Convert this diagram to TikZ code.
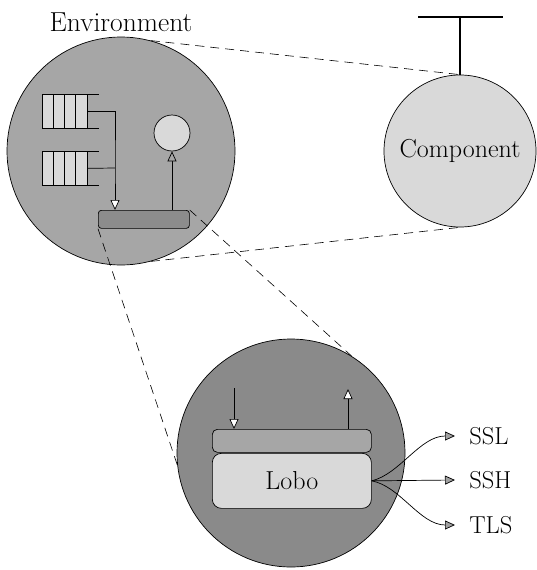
\documentclass[tikz,border=0pt]{standalone}
\usepackage{fontspec}
\usetikzlibrary{arrows.meta}
\definecolor{envgray}{HTML}{A6A6A6}
\definecolor{lowgray}{HTML}{8A8A8A}
\definecolor{lightgrayb}{HTML}{D9D9D9}
\definecolor{bargray}{HTML}{8C8C8C}
\definecolor{tipgray}{HTML}{A0A0A0}
\begin{document}
\begin{tikzpicture}[x=1pt,y=-1pt, line width=0.7pt,
  lbl/.style={font=\fontsize{26}{30}\selectfont, inner sep=0pt},
  plbl/.style={font=\fontsize{24.5}{28}\selectfont, inner sep=0pt},
  dashline/.style={dash pattern=on 9pt off 6pt, line width=0.6pt},
  tipw/.style={-{Triangle[length=10pt,width=9pt,fill=white]}},
  tipg/.style={-{Triangle[length=10pt,width=9pt,fill=envgray]}},
  tipo/.style={-{Triangle[length=10pt,width=9pt,fill=tipgray]}},
  bigcircle/.style={circle, draw, minimum size=228pt, inner sep=0pt},
  queue/.style={draw, fill=lightgrayb, minimum width=45pt, minimum height=34pt, inner sep=0pt, anchor=north west},
]
\useasboundingbox (0,0) rectangle (536,570);
% environment
\node[bigcircle, fill=envgray] (env) at (121,151) {};
\node[font=\fontsize{27.5}{32}\selectfont, inner sep=0pt, anchor=base] (envlabel) at (121,31) {Environment};
% component
\node[circle, draw, fill=lightgrayb, minimum size=152pt, lbl] (comp) at (460,151) {Component};
\coordinate (ttop) at (460,17);
\draw[line width=1.3pt] (comp.north) -- (ttop);
\draw[line width=1.1pt] ([xshift=-42pt]ttop) -- ([xshift=43pt]ttop);
% queues
\node[queue] (q1) at (42,94) {};
\node[queue] (q2) at (42,151) {};
\foreach \q in {q1,q2}{
  \foreach \i in {1,2,3}
    \draw ([xshift=\i*11.25pt]\q.north west) -- ([xshift=\i*11.25pt]\q.south west);
  \draw (\q.north east) -- ++(11,0);
  \draw (\q.south east) -- ++(11,0);
}
% bar and small circle
\node[draw, fill=bargray, rounded corners=3pt, minimum width=91pt, minimum height=18pt, inner sep=0pt, anchor=north west] (bar) at (98,210) {};
\node[circle, draw, fill=lightgrayb, minimum size=36pt, inner sep=0pt] (sc) at (172,133) {};
\coordinate (j) at (115,168);
\draw[tipw] (q1.east) -| (j) -- (j |- bar.north);
\draw (q2.east) -- (j);
\draw[tipg] (bar.north -| sc.south) -- (sc.south);
% lower circle
\node[bigcircle, fill=lowgray] (low) at (291,453) {};
\node[draw, fill=envgray, rounded corners=5pt, minimum width=159pt, minimum height=23pt, inner sep=0pt, anchor=north west] (lbar) at (212,429) {};
\node[draw, fill=lightgrayb, rounded corners=9pt, minimum width=159pt, minimum height=55pt, anchor=north west, lbl] (lobo) at (212,453) {Lobo};
\coordinate (lin) at (234,388);
\draw[tipw] (lin) -- (lin |- lbar.north);
\coordinate (lout) at (348,389);
\draw[tipw] (lout |- lbar.north) -- (lout);
% protocols
\node[plbl, anchor=west] (ssl) at (469,436) {SSL};
\node[plbl, anchor=west] (ssh) at (469,480) {SSH};
\node[plbl, anchor=west] (tls) at (469,525) {TLS};
\draw[tipo] (lobo.east) .. controls (400,474) and (420,436) .. ([xshift=-14pt]ssl.west);
\draw[tipo] (lobo.east) -- ([xshift=-14pt]ssh.west);
\draw[tipo] (lobo.east) .. controls (400,486) and (420,525) .. ([xshift=-14pt]tls.west);
% dashed zoom lines
\draw[dashline] (env.75) -- (comp.north);
\draw[dashline] (env.-75) -- (comp.south);
\draw[dashline] (bar.north east) -- (low.58);
\draw[dashline] (bar.south west) -- (low.186);
\end{tikzpicture}
\end{document}
